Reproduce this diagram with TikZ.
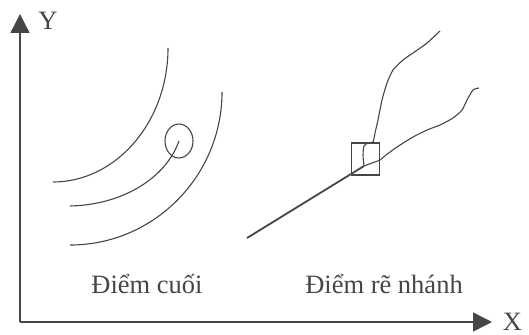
\documentclass[tikz,border=0pt]{standalone}
\usepackage{fontspec}
\setmainfont{Liberation Serif}
\usetikzlibrary{arrows.meta,positioning,shapes.geometric}
\definecolor{ink}{RGB}{70,70,70}
\tikzset{
  axis/.style={draw=ink,line width=1.4pt,-{Triangle[length=19pt,width=19pt]}},
  contour/.style={draw=ink,line width=1.1pt},
  track/.style={draw=ink,line width=1.8pt},
  branch/.style={draw=ink,line width=1.1pt},
  lab/.style={font=\fontsize{26.5}{30}\selectfont,text=ink,inner sep=0pt,anchor=base},
  marker/.style={draw=ink,line width=1.1pt,inner sep=0pt}
}
\begin{document}
\begin{tikzpicture}[x=1pt,y=-1pt]
\useasboundingbox (0,0) rectangle (529,334);
% axes
\coordinate (o) at (20,322);
\coordinate (ytip) at (20,14);
\coordinate (xtip) at (492,322);
\draw[axis] (o) -- (ytip);
\draw[axis] (o) -- (xtip);
\node[lab,anchor=center] (ylab) at (48,21) {Y};
\node[lab,anchor=center] (xlab) at (512.5,322) {X};
% end point
\draw[contour] (168,48) .. controls (168,122) and (116,182) .. (53,182);
\draw[contour] (222,92) .. controls (222,176) and (154,245) .. (70,245);
\node[marker,ellipse,minimum width=28pt,minimum height=34pt] (endmark) at (179,141) {};
\draw[contour] (endmark.center) .. controls (165,180) and (120,205) .. (70,206);
% branch point
\node[marker,rectangle,minimum width=28pt,minimum height=32pt] (brmark) at (365.5,159) {};
\coordinate (fork) at (364,166);
\draw[track] (247,238) -- (fork);
\draw[branch] plot[smooth,tension=0.4] coordinates {(fork) (372,163) (380,160) (386,155) (397,147) (413,137) (427,130) (440,125) (453,118) (462,110) (467,100) (473,90) (479,88)};
\draw[branch] plot[smooth,tension=0.4] coordinates {(fork) (363,155) (364,146) (368,143) (373,142) (375,133) (378,120) (382,100) (387,83) (393,70) (403,60) (413,53) (427,43) (440,31)};
% labels
\node[lab] (endlab) at (147,293) {Điểm cuối};
\node[lab] (brlab) at (384,293) {Điểm rẽ nhánh};
\end{tikzpicture}
\end{document}
